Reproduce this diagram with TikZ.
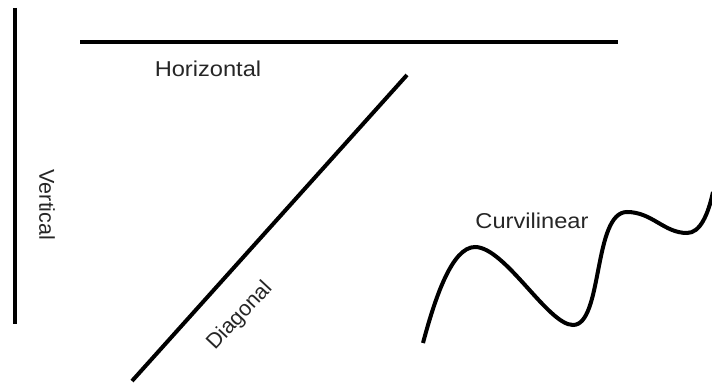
\documentclass[tikz,border=0pt]{standalone}
\usepackage{fontspec}
\setmainfont{Liberation Sans}
\begin{document}
\begin{tikzpicture}[x=1pt,y=-1pt,
  stroke/.style={line width=4pt,black},
  lbl/.style={inner sep=0pt,text=black!85,font=\fontsize{21.5}{25}\selectfont}]
\useasboundingbox (0,0) rectangle (712,387);
\coordinate (v1) at (15,8);
\coordinate (v2) at (15,324);
\coordinate (h1) at (80,42);
\coordinate (h2) at (618,42);
\coordinate (d1) at (132,381);
\coordinate (d2) at (407,75);
\coordinate (c0) at (423,343);
\coordinate (c1) at (475,247);
\coordinate (c2) at (573,325);
\coordinate (c3) at (627,212);
\coordinate (c4) at (687,233);
\coordinate (c5) at (713,192);
\draw[stroke] (v1) -- (v2);
\draw[stroke] (h1) -- (h2);
\draw[stroke] (d1) -- (d2);
\draw[stroke] (c0) .. controls (435,298) and (452,247) .. (c1)
  .. controls (505,247) and (548,325) .. (c2)
  .. controls (603,325) and (593,212) .. (c3)
  .. controls (652,212) and (664,233) .. (c4)
  .. controls (700,233) and (708,215) .. (c5);
\node[lbl,xscale=1.1] (th) at (208,69) {Horizontal};
\node[lbl,xscale=1.1] (tc) at (532,221) {Curvilinear};
\node[lbl,rotate=-90] (tv) at (47,205) {Vertical};
\node[lbl,rotate=47] (td) at (240,316) {Diagonal};
\end{tikzpicture}
\end{document}
